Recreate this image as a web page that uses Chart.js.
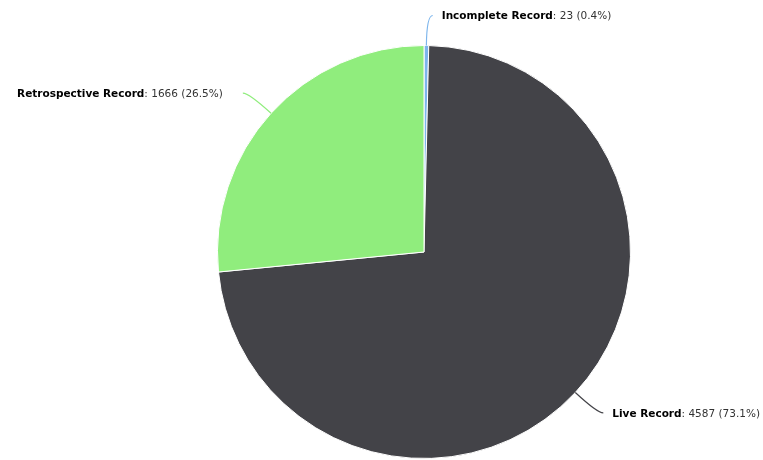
<!DOCTYPE html>
<html>
<head>
<meta charset="utf-8">
<script src="https://cdn.jsdelivr.net/npm/chart.js@4"></script>
<style>
  html, body { margin: 0; padding: 0; background: #fff; }
  #wrap { width: 763px; height: 460px; }
</style>
</head>
<body>
<div id="wrap"><canvas id="pie" width="763" height="460"></canvas></div>
<script>
const categories = ["Incomplete Record", "Live Record", "Retrospective Record"];
const values = [23, 4587, 1666];
const colors = ["#7cb5ec", "#434348", "#90ed7d"];

const total = values.reduce((a, b) => a + b, 0);

// draws the outside labels with soft connectors
const outsideLabels = {
    id: "outsideLabels",
    afterDatasetsDraw(chart) {
        const ctx = chart.ctx;
        const meta = chart.getDatasetMeta(0);
        const dist = 30;
        meta.data.forEach((arc, i) => {
            const mid = (arc.startAngle + arc.endAngle) / 2;
            const r = arc.outerRadius;
            const cos = Math.cos(mid), sin = Math.sin(mid);
            const ax = arc.x + cos * r, ay = arc.y + sin * r;
            const cx = arc.x + cos * (r + dist), cy = arc.y + sin * (r + dist);
            const right = cos >= 0;
            const ex = cx + (right ? 6 : -6), ey = cy;

            ctx.save();
            ctx.strokeStyle = colors[i];
            ctx.lineWidth = 1.2;
            ctx.beginPath();
            ctx.moveTo(ax, ay);
            ctx.quadraticCurveTo(cx, cy, ex, ey);
            ctx.stroke();

            const name = categories[i];
            const rest = ": " + values[i] + " (" + (values[i] / total * 100).toFixed(1) + "%)";
            const bold = "bold 10.5px 'DejaVu Sans', Verdana, sans-serif";
            const norm = "10.5px 'DejaVu Sans', Verdana, sans-serif";
            ctx.font = bold;
            const wb = ctx.measureText(name).width;
            ctx.font = norm;
            const wn = ctx.measureText(rest).width;
            let tx = right ? ex + 9 : ex - 20 - wb - wn;
            ctx.textBaseline = "middle";
            ctx.textAlign = "left";
            ctx.fillStyle = "#000";
            ctx.font = bold;
            ctx.fillText(name, tx, ey + 1);
            ctx.fillStyle = "#333";
            ctx.font = norm;
            ctx.fillText(rest, tx + wb, ey + 1);
            ctx.restore();
        });
    }
};

new Chart(document.getElementById("pie"), {
    type: "pie",
    data: {
        labels: categories,
        datasets: [{
            data: values,
            backgroundColor: colors,
            borderColor: "#ffffff",
            borderWidth: 1,
            hoverOffset: 0
        }]
    },
    options: {
        responsive: false,
        animation: false,
        layout: { padding: { left: 217, right: 132, top: 45, bottom: 1 } },
        plugins: {
            legend: { display: false },
            tooltip: { enabled: false }
        }
    },
    plugins: [outsideLabels]
});
</script>
</body>
</html>
